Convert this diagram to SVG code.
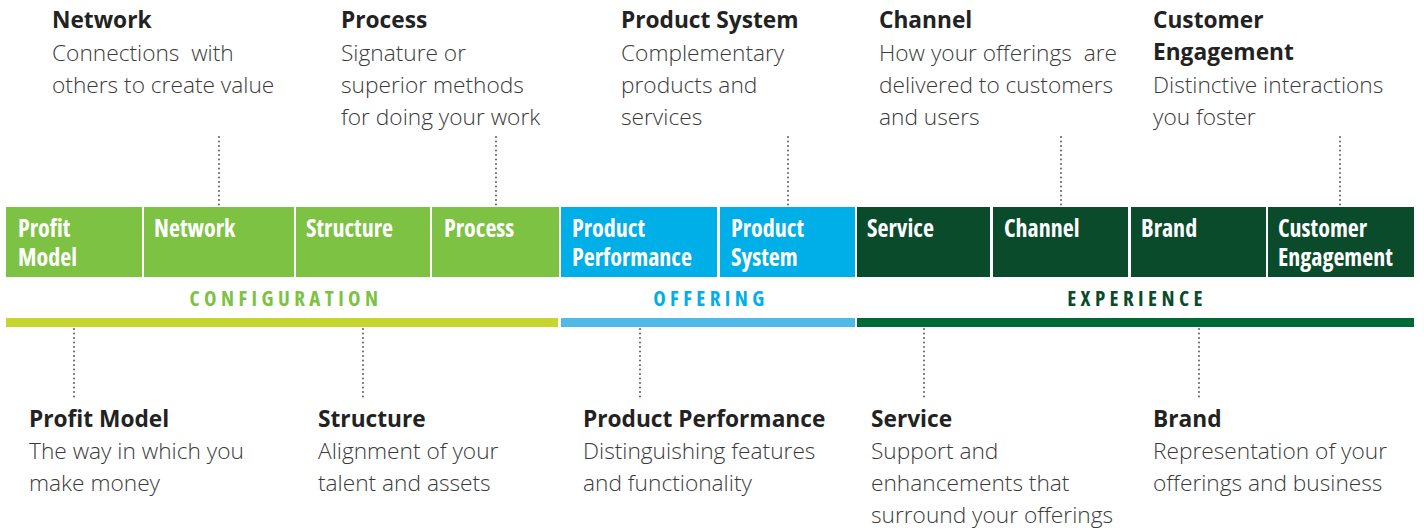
<svg xmlns="http://www.w3.org/2000/svg" width="1424" height="530" viewBox="0 0 1424 530">
  <defs>
    <style>
      .title { font-family: "Open Sans", "Liberation Sans", sans-serif; font-weight: 700; font-size: 22.7px; fill: #222222; }
      .body { font-family: "Open Sans", "Liberation Sans", sans-serif; font-weight: 300; font-size: 22.7px; fill: #3a3a3a; white-space: pre; }
      .box-label { font-family: "Open Sans", "DejaVu Sans Condensed", sans-serif; font-stretch: 75%; font-weight: 700; font-size: 24px; fill: #ffffff; }
      .cat { font-family: "Open Sans", "DejaVu Sans Condensed", sans-serif; font-stretch: 75%; font-weight: 700; font-size: 21px; letter-spacing: 4.4px; text-anchor: middle; }
      .dots { stroke: #6b6e73; stroke-width: 2.2; stroke-linecap: round; stroke-dasharray: 0 4.5; fill: none; }
      .cfg { fill: #7dc243; }
      .off { fill: #00aee8; }
      .exp { fill: #0a4b2c; }
    </style>
  </defs>

  <!-- Category boxes -->
  <g id="box-profit-model"><rect class="cfg" x="6" y="207" width="136" height="70"/><text class="box-label" x="18" y="237">Profit<tspan x="18" dy="29">Model</tspan></text></g>
  <g id="box-network"><rect class="cfg" x="144" y="207" width="150" height="70"/><text class="box-label" x="154" y="237">Network</text></g>
  <g id="box-structure"><rect class="cfg" x="296" y="207" width="134" height="70"/><text class="box-label" x="306" y="237">Structure</text></g>
  <g id="box-process"><rect class="cfg" x="432" y="207" width="127" height="70"/><text class="box-label" x="444" y="237">Process</text></g>
  <g id="box-product-performance"><rect class="off" x="561" y="207" width="156" height="70"/><text class="box-label" x="572" y="237">Product<tspan x="572" dy="29">Performance</tspan></text></g>
  <g id="box-product-system"><rect class="off" x="720" y="207" width="135" height="70"/><text class="box-label" x="731" y="237">Product<tspan x="731" dy="29">System</tspan></text></g>
  <g id="box-service"><rect class="exp" x="857" y="207" width="133" height="70"/><text class="box-label" x="867" y="237">Service</text></g>
  <g id="box-channel"><rect class="exp" x="993" y="207" width="135" height="70"/><text class="box-label" x="1004" y="237">Channel</text></g>
  <g id="box-brand"><rect class="exp" x="1131" y="207" width="135" height="70"/><text class="box-label" x="1141" y="237">Brand</text></g>
  <g id="box-customer-engagement"><rect class="exp" x="1268" y="207" width="146" height="70"/><text class="box-label" x="1278" y="237">Customer<tspan x="1278" dy="29">Engagement</tspan></text></g>

  <!-- Group headings and underline bars -->
  <g id="group-configuration">
    <text class="cat" x="286" y="306" fill="#7dc243">CONFIGURATION</text>
    <rect x="6" y="318" width="552" height="9" fill="#c6d62e"/>
  </g>
  <g id="group-offering">
    <text class="cat" x="711" y="306" fill="#00aee8">OFFERING</text>
    <rect x="561" y="318" width="294" height="9" fill="#4fb9e8"/>
  </g>
  <g id="group-experience">
    <text class="cat" x="1137" y="306" fill="#0a4b2c">EXPERIENCE</text>
    <rect x="857" y="318" width="557" height="9" fill="#006937"/>
  </g>

  <!-- Dotted leader lines -->
  <g id="connectors">
    <line class="dots" x1="219" y1="137" x2="219" y2="205"/>
    <line class="dots" x1="496" y1="137" x2="496" y2="205"/>
    <line class="dots" x1="788" y1="137" x2="788" y2="205"/>
    <line class="dots" x1="1061" y1="137" x2="1061" y2="205"/>
    <line class="dots" x1="1340" y1="137" x2="1340" y2="205"/>
    <line class="dots" x1="74" y1="329" x2="74" y2="398"/>
    <line class="dots" x1="363" y1="329" x2="363" y2="398"/>
    <line class="dots" x1="640" y1="329" x2="640" y2="398"/>
    <line class="dots" x1="924" y1="329" x2="924" y2="398"/>
    <line class="dots" x1="1199" y1="329" x2="1199" y2="398"/>
  </g>

  <!-- Descriptions above the bar -->
  <g id="note-network">
    <text class="title" x="52" y="28">Network</text>
    <text class="body" x="52" y="61">Connections  with</text>
    <text class="body" x="52" y="93">others to create value</text>
  </g>
  <g id="note-process">
    <text class="title" x="341" y="28">Process</text>
    <text class="body" x="341" y="61">Signature or</text>
    <text class="body" x="341" y="93">superior methods</text>
    <text class="body" x="341" y="125">for doing your work</text>
  </g>
  <g id="note-product-system">
    <text class="title" x="621" y="28">Product System</text>
    <text class="body" x="621" y="61">Complementary</text>
    <text class="body" x="621" y="93">products and</text>
    <text class="body" x="621" y="125">services</text>
  </g>
  <g id="note-channel">
    <text class="title" x="879" y="28">Channel</text>
    <text class="body" x="879" y="61">How your offerings  are</text>
    <text class="body" x="879" y="93">delivered to customers</text>
    <text class="body" x="879" y="125">and users</text>
  </g>
  <g id="note-customer-engagement">
    <text class="title" x="1153" y="28">Customer</text>
    <text class="title" x="1153" y="60">Engagement</text>
    <text class="body" x="1153" y="93">Distinctive interactions</text>
    <text class="body" x="1153" y="125">you foster</text>
  </g>

  <!-- Descriptions below the bar -->
  <g id="note-profit-model">
    <text class="title" x="29" y="427">Profit Model</text>
    <text class="body" x="29" y="459">The way in which you</text>
    <text class="body" x="29" y="491">make money</text>
  </g>
  <g id="note-structure">
    <text class="title" x="318" y="427">Structure</text>
    <text class="body" x="318" y="459">Alignment of your</text>
    <text class="body" x="318" y="491">talent and assets</text>
  </g>
  <g id="note-product-performance">
    <text class="title" x="583" y="427">Product Performance</text>
    <text class="body" x="583" y="459">Distinguishing features</text>
    <text class="body" x="583" y="491">and functionality</text>
  </g>
  <g id="note-service">
    <text class="title" x="871" y="427">Service</text>
    <text class="body" x="871" y="459">Support and</text>
    <text class="body" x="871" y="491">enhancements that</text>
    <text class="body" x="871" y="523">surround your offerings</text>
  </g>
  <g id="note-brand">
    <text class="title" x="1153" y="427">Brand</text>
    <text class="body" x="1153" y="459">Representation of your</text>
    <text class="body" x="1153" y="491">offerings and business</text>
  </g>
</svg>
